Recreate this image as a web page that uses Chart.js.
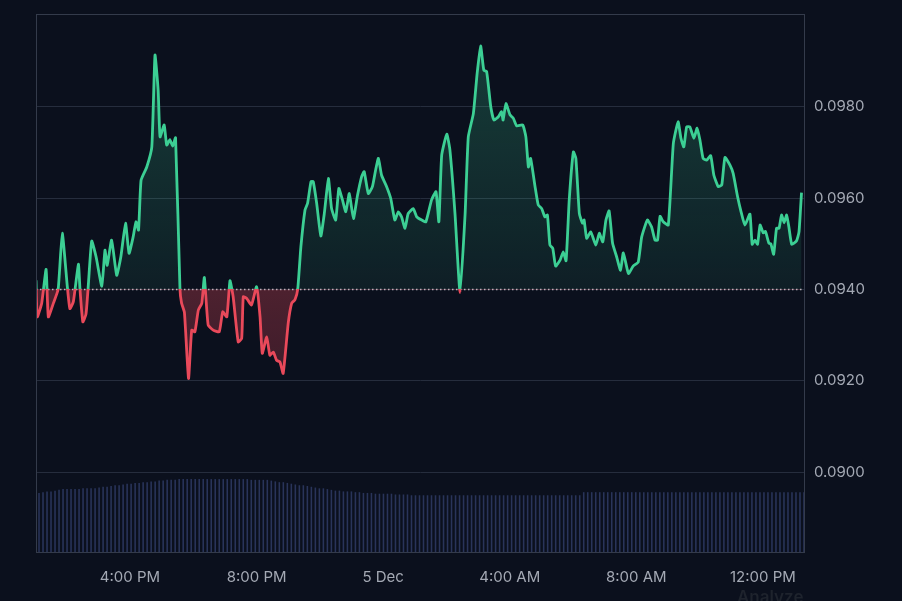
<!DOCTYPE html>
<html>
<head>
<meta charset="utf-8">
<script src="https://cdn.jsdelivr.net/npm/chart.js@4.4.1/dist/chart.umd.min.js"></script>
<style>
  html, body { margin: 0; padding: 0; background: #0b101d; overflow: hidden; }
  #wrap { position: relative; width: 902px; height: 601px; }
  #price-chart { display: block; }
  #analyze { position: absolute; left: 737px; top: 587px; font: 600 17px Inter, sans-serif; color: #1e232d; }
</style>
</head>
<body>
<div id="wrap">
  <canvas id="price-chart" width="902" height="601"></canvas>
  <div id="analyze">Analyze</div>
</div>
<script>
// hours since midnight 4 Dec (16 = 4:00 PM, 24 = 5 Dec, 36 = 12:00 PM)
const times = [
  13.03, 13.07, 13.21, 13.35, 13.42, 13.58, 13.73, 13.86, 14.02, 14.10,
  14.21, 14.37, 14.42, 14.51, 14.61, 14.68, 14.79, 14.93, 15.11, 15.21,
  15.28, 15.42, 15.58, 15.71, 15.86, 15.97, 16.10, 16.19, 16.27, 16.35,
  16.53, 16.69, 16.79, 16.89, 16.95, 17.08, 17.16, 17.26, 17.35, 17.44,
  17.58, 17.63, 17.72, 17.85, 17.95, 18.05, 18.16, 18.27, 18.35, 18.47,
  18.63, 18.82, 18.93, 19.06, 19.16, 19.26, 19.42, 19.53, 19.58, 19.69,
  19.84, 20.00, 20.11, 20.18, 20.32, 20.42, 20.53, 20.63, 20.74, 20.84,
  21.00, 21.11, 21.21, 21.30, 21.40, 21.53, 21.61, 21.72, 21.79, 21.90,
  22.03, 22.14, 22.27, 22.37, 22.50, 22.60, 22.71, 22.82, 22.93, 23.06,
  23.19, 23.32, 23.40, 23.53, 23.66, 23.76, 23.85, 23.95, 24.11, 24.24,
  24.37, 24.48, 24.58, 24.69, 24.79, 24.95, 25.06, 25.22, 25.35, 25.53,
  25.67, 25.76, 25.85, 26.01, 26.11, 26.27, 26.43, 26.59, 26.69, 26.85,
  26.97, 27.08, 27.18, 27.27, 27.40, 27.50, 27.64, 27.74, 27.79, 27.88,
  28.01, 28.11, 28.22, 28.41, 28.51, 28.59, 28.66, 28.80, 28.90, 29.01,
  29.11, 29.19, 29.27, 29.36, 29.45, 29.59, 29.69, 29.78, 29.88, 30.01,
  30.09, 30.20, 30.30, 30.35, 30.43, 30.56, 30.72, 30.83, 30.94, 31.04,
  31.14, 31.25, 31.38, 31.50, 31.59, 31.75, 31.90, 32.06, 32.17, 32.35,
  32.48, 32.59, 32.67, 32.75, 32.85, 33.01, 33.17, 33.32, 33.41, 33.50,
  33.59, 33.69, 33.82, 33.92, 34.01, 34.11, 34.22, 34.35, 34.45, 34.59,
  34.70, 34.80, 34.96, 35.06, 35.20, 35.31, 35.43, 35.59, 35.66, 35.75,
  35.83, 35.91, 36.01, 36.08, 36.19, 36.25, 36.34, 36.43, 36.51, 36.59,
  36.67, 36.75, 36.82, 36.91, 37.06, 37.14, 37.22
]

const prices = [
  0.0942, 0.0934, 0.0937, 0.09444, 0.0934, 0.0937, 0.0940, 0.09523, 0.09406, 0.09358,
  0.09373, 0.09455, 0.0940, 0.09329, 0.09346, 0.09406, 0.09506, 0.09471, 0.09407, 0.09486,
  0.09453, 0.09508, 0.09431, 0.09471, 0.09545, 0.09479, 0.09515, 0.09548, 0.0953, 0.09639,
  0.09668, 0.09712, 0.09913, 0.09836, 0.09734, 0.0976, 0.09716, 0.09728, 0.09714, 0.09732,
  0.0940, 0.0937, 0.0935, 0.09205, 0.09311, 0.09307, 0.09355, 0.0937, 0.09426, 0.09322,
  0.09311, 0.09307, 0.09351, 0.0934, 0.09419, 0.09384, 0.09285, 0.09293, 0.09384, 0.0938,
  0.09366, 0.09406, 0.0934, 0.0926, 0.09296, 0.09256, 0.09263, 0.09245, 0.09241, 0.09216,
  0.09326, 0.0937, 0.09377, 0.0940, 0.09493, 0.09574, 0.09588, 0.09636, 0.09636, 0.09588,
  0.09517, 0.09566, 0.09643, 0.09577, 0.09552, 0.09621, 0.09597, 0.0957, 0.0961, 0.09555,
  0.09606, 0.09647, 0.09658, 0.0961, 0.09625, 0.09661, 0.09687, 0.0965, 0.09625, 0.09599,
  0.09552, 0.0957, 0.09559, 0.09534, 0.09566, 0.09577, 0.09559, 0.09552, 0.09548, 0.09596,
  0.09614, 0.09548, 0.09694, 0.0974, 0.09705, 0.09566, 0.09393, 0.09566, 0.09734, 0.09785,
  0.09873, 0.09933, 0.0988, 0.09877, 0.098, 0.09771, 0.09778, 0.09789, 0.09771, 0.09807,
  0.09782, 0.09775, 0.09758, 0.0976, 0.09734, 0.09668, 0.09687, 0.09625, 0.09585, 0.09577,
  0.09559, 0.09563, 0.09497, 0.0949, 0.09451, 0.09464, 0.09482, 0.09463, 0.09596, 0.09701,
  0.09687, 0.09566, 0.09545, 0.09552, 0.09512, 0.09526, 0.09497, 0.09523, 0.09504, 0.09552,
  0.09572, 0.09501, 0.09471, 0.09442, 0.0948, 0.09435, 0.09451, 0.0946, 0.09515, 0.09552,
  0.09537, 0.09508, 0.09508, 0.0956, 0.09548, 0.09541, 0.0972, 0.09767, 0.09731, 0.09712,
  0.09756, 0.09756, 0.09731, 0.09753, 0.09727, 0.09687, 0.09683, 0.09693, 0.0965, 0.09625,
  0.09629, 0.09689, 0.09672, 0.09654, 0.09603, 0.0957, 0.09541, 0.09565, 0.09499, 0.09508,
  0.09499, 0.09541, 0.09524, 0.09527, 0.09501, 0.0950, 0.09477, 0.09534, 0.09534, 0.09563,
  0.09546, 0.09563, 0.09537, 0.09499, 0.09506, 0.09526, 0.09612
]

// volume bars, evenly spaced over the day
const volume = [
  78, 79, 80, 80, 81, 82, 83, 83, 83, 83, 83, 84, 84, 84, 84, 85,
  86, 86, 87, 88, 88, 89, 90, 90, 91, 91, 92, 92, 93, 93, 94, 94,
  95, 95, 95, 96, 96, 96, 96, 96, 96, 96, 96, 96, 96, 96, 96, 96,
  96, 96, 96, 96, 96, 95, 95, 95, 95, 95, 94, 93, 92, 92, 91, 90,
  89, 88, 88, 87, 86, 85, 84, 84, 83, 82, 81, 81, 80, 80, 80, 79,
  79, 78, 78, 78, 77, 77, 77, 77, 77, 76, 76, 76, 76, 75, 75, 75,
  75, 75, 75, 75, 75, 75, 75, 75, 75, 75, 75, 75, 75, 75, 75, 75,
  75, 75, 75, 75, 75, 75, 75, 75, 75, 75, 75, 75, 75, 75, 75, 75,
  75, 75, 75, 75, 75, 75, 75, 75, 79, 79, 79, 79, 79, 79, 79, 79,
  79, 79, 79, 79, 79, 79, 79, 79, 79, 79, 79, 79, 79, 79, 79, 79,
  79, 79, 79, 79, 79, 79, 79, 79, 79, 79, 79, 79, 79, 79, 79, 79,
  79, 79, 79, 79, 79, 79, 79, 79, 79, 79, 79, 79, 79, 79, 79, 79
]

const openPrice = 0.094
const tickHours = [16, 20, 24, 28, 32, 36]
const tickLabels = ['4:00 PM', '8:00 PM', '5 Dec', '4:00 AM', '8:00 AM', '12:00 PM']
const priceTicks = [0.090, 0.092, 0.094, 0.096, 0.098]

const green = '#3ccf94'
const red = '#e9495a'
const labelColor = '#a4a9b4'
const labelFont = { family: 'Inter', size: 15 }

// vertical gradient split exactly at the open price
function splitGradient(ctx, stops) {
    const chart = ctx.chart
    const area = chart.chartArea
    if (!area || !chart.scales.y) return stops[0]
    const y0 = chart.scales.y.getPixelForValue(openPrice)
    const f = Math.min(1, Math.max(0, (y0 - area.top) / (area.bottom - area.top)))
    const g = chart.ctx.createLinearGradient(0, area.top, 0, area.bottom)
    g.addColorStop(0, stops[0])
    g.addColorStop(f, stops[1])
    g.addColorStop(f, stops[2])
    g.addColorStop(1, stops[3])
    return g
}

const frame = {
    id: 'frame',
    afterDatasetsDraw(chart) {
        const { ctx, chartArea: a } = chart
        ctx.save()
        ctx.strokeStyle = '#343b4b'
        ctx.lineWidth = 1
        ctx.strokeRect(a.left + 0.5, a.top + 0.5, a.right - a.left - 1, a.bottom - a.top - 1)
        ctx.restore()
    }
}

new Chart(document.getElementById('price-chart'), {
    data: {
        labels: volume.map((_, i) => i),
        datasets: [{
            type: 'line',
            data: times.map((t, i) => ({ x: t, y: prices[i] })),
            borderWidth: 2.8,
            pointRadius: 0,
            tension: 0.15,
            borderColor: ctx => splitGradient(ctx, [green, green, red, red]),
            backgroundColor: ctx => splitGradient(ctx, [
                'rgba(60, 207, 148, 0.26)', 'rgba(60, 207, 148, 0.08)',
                'rgba(233, 73, 90, 0.3)', 'rgba(233, 73, 90, 0.08)'
            ]),
            fill: { value: openPrice },
            order: 0
        }, {
            type: 'line',
            data: [{ x: times[0], y: openPrice }, { x: times[times.length - 1], y: openPrice }],
            borderColor: 'rgba(215, 218, 225, 0.85)',
            borderWidth: 1.5,
            borderDash: [1.5, 2.5],
            pointRadius: 0,
            fill: false,
            order: 1
        }, {
            type: 'bar',
            data: volume,
            xAxisID: 'xv',
            yAxisID: 'yv',
            backgroundColor: '#29345a',
            barPercentage: 0.78,
            categoryPercentage: 1,
            order: 2
        }]
    },
    options: {
        responsive: false,
        animation: false,
        layout: { padding: { left: 36, top: 14, right: 0, bottom: 0 } },
        plugins: {
            legend: { display: false },
            tooltip: { enabled: false }
        },
        scales: {
            x: {
                type: 'linear',
                min: 13.03,
                max: 37.33,
                afterBuildTicks: axis => { axis.ticks = tickHours.map(v => ({ value: v })) },
                afterFit: axis => {
                    axis.height = 48
                    axis.paddingLeft = 0
                    axis.paddingRight = 0
                },
                grid: { display: false, drawTicks: false },
                border: { display: false },
                ticks: {
                    color: labelColor,
                    font: labelFont,
                    padding: 15,
                    maxRotation: 0,
                    autoSkip: false,
                    callback: (v, i) => tickLabels[i]
                }
            },
            y: {
                position: 'right',
                min: 0.08823,
                max: 0.10003,
                afterBuildTicks: axis => { axis.ticks = priceTicks.map(v => ({ value: v })) },
                afterFit: axis => {
                    axis.width = 97
                    axis.paddingTop = 0
                    axis.paddingBottom = 0
                },
                grid: { color: '#262d3d', drawTicks: false },
                border: { display: false },
                ticks: {
                    color: labelColor,
                    font: labelFont,
                    padding: 9,
                    callback: v => v.toFixed(4)
                }
            },
            xv: { type: 'category', display: false, offset: true },
            yv: { display: false, min: 0, max: 700 }
        }
    },
    plugins: [frame]
})
</script>
</body>
</html>
